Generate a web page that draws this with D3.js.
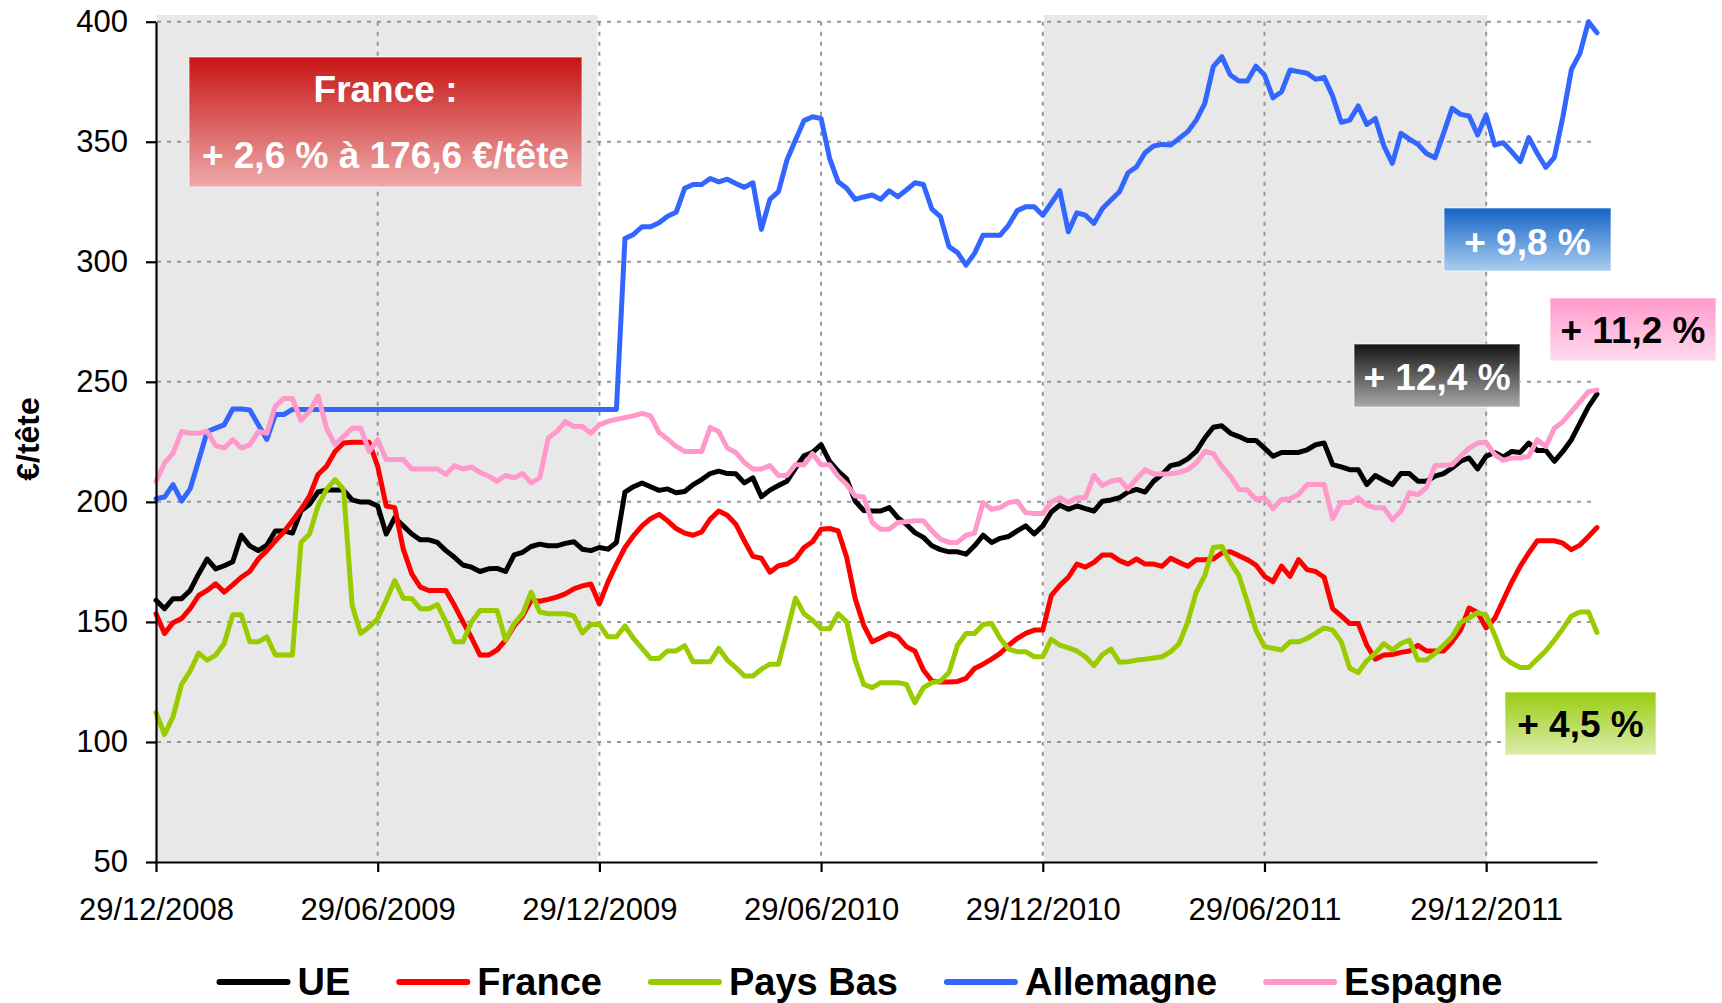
<!DOCTYPE html>
<html>
<head>
<meta charset="utf-8">
<script src="https://cdn.jsdelivr.net/npm/d3@7"></script>
<style>
  body { margin: 0; background: #fff; }
  svg text { font-family: "Liberation Sans", Arial, sans-serif; }
</style>
</head>
<body>
<svg id="chart" width="1722" height="1003"></svg>
<script>
// weekly prices in €/tête, first week = 29/12/2008
const ue = [
  159.0, 155.5, 159.7, 159.7, 163.1, 170.0, 176.2, 172.1, 173.4, 175.1,
  186.1, 181.7, 179.7, 182.0, 187.9, 187.9, 187.0, 196.2, 199.0, 204.1,
  204.9, 204.9, 204.9, 200.8, 199.9, 199.9, 198.3, 186.6, 193.4, 190.0,
  186.6, 184.2, 184.2, 183.1, 179.7, 176.9, 173.7, 172.8, 171.0, 172.1,
  172.3, 171.0, 177.9, 179.0, 181.4, 182.4, 181.7, 181.7, 182.7, 183.4,
  180.3, 179.7, 181.0, 180.3, 183.1, 204.1, 206.3, 207.9, 206.3, 204.8,
  205.4, 203.8, 204.3, 207.2, 209.3, 211.8, 212.8, 211.8, 211.7, 207.9,
  210.0, 202.1, 204.9, 206.8, 208.6, 214.1, 219.2, 220.6, 223.8, 216.9,
  212.8, 209.6, 200.3, 196.4, 196.2, 196.2, 197.6, 193.4, 190.7, 187.2,
  185.2, 181.7, 180.1, 179.2, 179.2, 178.2, 181.7, 186.1, 183.1, 184.8,
  185.6, 187.9, 190.0, 186.6, 190.0, 195.8, 198.6, 196.9, 198.3, 197.2,
  196.2, 200.3, 200.8, 201.7, 204.1, 205.2, 204.1, 208.6, 211.5, 215.1,
  215.9, 217.9, 221.0, 226.6, 231.1, 231.7, 228.6, 227.2, 225.6, 225.6,
  222.4, 219.0, 220.6, 220.6, 220.6, 221.7, 223.8, 224.5, 215.5, 214.6,
  213.4, 213.4, 207.2, 211.0, 209.0, 207.2, 211.8, 211.8, 208.6, 208.6,
  210.7, 211.8, 214.1, 216.9, 218.3, 213.7, 219.0, 220.6, 218.7, 221.0,
  220.6, 224.5, 221.4, 221.4, 216.9, 221.0, 225.9, 232.8, 239.7, 244.9
];

const france = [
  153.4, 145.2, 149.7, 151.4, 155.5, 161.0, 163.1, 165.9, 162.4, 165.4,
  168.6, 171.0, 176.2, 179.7, 183.8, 187.5, 192.1, 196.9, 202.4, 211.4,
  214.8, 221.0, 224.5, 224.8, 224.8, 224.8, 214.8, 198.3, 197.6, 180.3,
  170.0, 164.5, 163.1, 163.1, 163.1, 156.9, 150.0, 143.4, 136.2, 136.2,
  138.3, 142.4, 148.3, 152.5, 159.0, 158.6, 159.4, 160.3, 161.7, 163.8,
  165.0, 165.8, 157.5, 166.6, 174.1, 181.0, 185.9, 190.0, 193.0, 194.8,
  192.1, 188.9, 187.0, 186.1, 187.5, 192.8, 196.2, 194.4, 190.7, 183.8,
  177.3, 176.5, 170.7, 173.4, 174.1, 176.2, 181.0, 183.4, 188.6, 188.9,
  187.9, 176.9, 159.7, 148.6, 141.7, 143.4, 145.2, 143.8, 139.7, 137.9,
  130.0, 125.4, 125.0, 125.0, 125.2, 126.5, 130.6, 132.4, 134.5, 136.9,
  140.3, 143.1, 145.2, 146.6, 146.6, 161.0, 165.2, 168.6, 174.1, 172.8,
  174.8, 177.9, 177.9, 175.5, 174.1, 176.2, 174.1, 174.1, 173.2, 176.5,
  174.8, 173.2, 175.9, 175.9, 176.2, 178.7, 179.2, 177.6, 175.9, 173.7,
  169.0, 166.8, 173.2, 169.0, 175.9, 171.8, 171.0, 168.6, 155.5, 152.5,
  149.3, 149.3, 140.3, 134.5, 136.2, 136.4, 137.3, 137.9, 140.3, 137.9,
  137.9, 137.9, 141.7, 146.6, 155.8, 153.9, 147.5, 151.4, 159.0, 166.6,
  173.2, 178.7, 183.8, 183.8, 183.8, 182.8, 180.1, 182.0, 185.6, 189.3
];

const paysBas = [
  112.2, 103.1, 110.5, 124.0, 129.5, 137.0, 134.1, 136.2, 141.0, 153.0,
  153.0, 141.7, 141.7, 143.8, 136.2, 136.2, 136.2, 183.1, 186.6, 198.3,
  205.2, 209.3, 205.2, 156.9, 145.2, 147.9, 151.4, 159.0, 167.2, 159.9,
  159.7, 155.5, 155.5, 157.2, 150.0, 141.7, 141.7, 150.0, 154.8, 154.8,
  154.8, 142.4, 149.3, 153.4, 162.4, 154.1, 153.4, 153.4, 153.4, 152.5,
  145.4, 148.9, 149.0, 143.8, 143.8, 148.3, 143.1, 139.0, 134.8, 134.8,
  137.9, 137.9, 140.1, 133.4, 133.4, 133.4, 139.0, 134.1, 131.0, 127.5,
  127.5, 130.3, 132.4, 132.4, 146.0, 159.9, 153.4, 150.7, 147.2, 147.2,
  153.4, 150.0, 134.1, 124.0, 122.6, 124.7, 124.7, 124.7, 124.0, 116.3,
  122.6, 124.7, 125.4, 128.9, 140.3, 145.2, 145.2, 148.9, 149.3, 143.1,
  138.7, 137.6, 137.6, 135.5, 135.5, 142.8, 140.3, 139.2, 137.9, 135.5,
  131.8, 136.4, 138.7, 133.2, 133.4, 134.1, 134.5, 135.0, 135.5, 137.6,
  141.0, 150.0, 162.4, 169.3, 181.0, 181.4, 174.8, 169.3, 158.3, 146.6,
  139.7, 139.0, 138.3, 141.7, 141.7, 143.1, 145.2, 147.5, 146.6, 141.7,
  130.7, 128.9, 133.8, 136.9, 141.0, 138.3, 141.0, 142.4, 134.1, 134.1,
  136.9, 140.3, 143.8, 149.7, 151.7, 153.9, 152.8, 144.5, 135.5, 132.8,
  131.0, 131.0, 134.5, 138.0, 142.4, 147.2, 152.5, 154.1, 154.1, 145.6
];

const allemagne = [
  201.3, 202.0, 207.2, 200.3, 205.4, 217.2, 229.3, 230.7, 232.1, 238.7,
  238.7, 238.3, 232.1, 226.0, 236.4, 236.4, 238.5, 238.5, 238.5, 238.5,
  238.5, 238.5, 238.5, 238.5, 238.5, 238.5, 238.5, 238.5, 238.5, 238.5,
  238.5, 238.5, 238.5, 238.5, 238.5, 238.5, 238.5, 238.5, 238.5, 238.5,
  238.5, 238.5, 238.5, 238.5, 238.5, 238.5, 238.5, 238.5, 238.5, 238.5,
  238.5, 238.5, 238.5, 238.5, 238.5, 309.7, 311.4, 314.6, 314.6, 316.3,
  319.0, 320.6, 330.6, 332.2, 332.2, 334.7, 333.3, 334.4, 332.6, 331.0,
  332.9, 313.5, 326.0, 329.2, 342.4, 350.7, 358.8, 360.4, 359.7, 343.1,
  333.3, 330.6, 326.0, 327.0, 327.8, 326.0, 329.6, 327.1, 329.9, 332.9,
  332.2, 321.9, 318.8, 306.3, 303.8, 298.6, 303.5, 311.1, 311.1, 311.1,
  315.3, 321.3, 322.9, 322.9, 319.4, 324.5, 329.6, 312.5, 320.4, 319.4,
  316.0, 322.2, 325.7, 329.2, 337.1, 339.6, 345.4, 348.2, 348.9, 348.6,
  351.4, 354.2, 359.0, 366.0, 381.3, 385.4, 377.8, 375.3, 375.3, 381.5,
  377.8, 368.3, 370.8, 379.9, 379.2, 378.5, 376.0, 376.8, 369.0, 358.1,
  359.0, 364.9, 357.2, 359.7, 348.3, 341.0, 353.5, 351.1, 348.9, 345.1,
  343.3, 353.5, 363.9, 361.4, 360.7, 352.8, 361.1, 348.6, 349.6, 345.8,
  341.7, 351.7, 345.1, 339.3, 343.5, 360.4, 380.1, 386.8, 400.0, 395.4
];

const espagne = [
  208.6, 216.2, 220.3, 229.3, 228.6, 228.6, 229.3, 223.4, 222.4, 225.9,
  222.4, 223.8, 229.3, 228.6, 239.9, 243.1, 243.1, 233.9, 237.6, 244.1,
  230.7, 223.8, 227.2, 230.7, 230.7, 221.0, 225.9, 217.6, 217.6, 217.6,
  213.7, 213.7, 213.7, 213.7, 211.4, 215.1, 213.7, 214.6, 212.3, 210.7,
  208.6, 211.0, 210.0, 211.8, 207.9, 210.0, 226.6, 229.3, 233.4, 231.4,
  231.4, 228.6, 232.1, 233.5, 234.4, 235.1, 235.8, 236.9, 235.8, 228.9,
  226.1, 223.1, 221.0, 221.0, 221.0, 231.0, 229.3, 222.4, 220.6, 216.4,
  213.7, 213.7, 215.1, 211.0, 211.0, 215.5, 215.5, 220.1, 215.5, 215.5,
  210.7, 207.2, 202.4, 202.0, 191.4, 188.6, 188.6, 191.4, 191.7, 192.1,
  192.1, 187.9, 184.5, 183.1, 183.1, 186.1, 187.0, 199.7, 196.9, 197.6,
  199.7, 200.3, 195.5, 195.2, 195.2, 199.9, 201.7, 199.7, 201.7, 201.7,
  211.0, 206.8, 208.6, 209.3, 205.4, 209.6, 213.4, 211.6, 211.6, 211.7,
  212.3, 213.4, 216.2, 221.0, 220.1, 214.8, 210.7, 205.2, 204.9, 201.0,
  201.7, 197.2, 201.0, 201.3, 203.1, 207.2, 207.2, 207.2, 193.0, 199.7,
  199.7, 201.7, 198.6, 197.6, 197.6, 192.5, 196.2, 203.8, 203.1, 205.9,
  215.1, 215.3, 215.5, 219.0, 222.4, 224.5, 224.8, 219.7, 217.3, 218.3,
  218.3, 219.0, 225.9, 223.1, 230.7, 233.4, 237.6, 241.7, 245.9, 246.6
];

const seriesNames = ["UE", "France", "Pays Bas", "Allemagne", "Espagne"];
const seriesColors = ["#000000", "#ff0000", "#99cc00", "#3366ff", "#ff99cc"];
const seriesData = [ue, france, paysBas, allemagne, espagne];

const xTickIdx = [0, 26, 52, 78, 104, 130, 156];
const xTickLabels = ["29/12/2008", "29/06/2009", "29/12/2009", "29/06/2010",
  "29/12/2010", "29/06/2011", "29/12/2011"];
const yTicks = [50, 100, 150, 200, 250, 300, 350, 400];
// shaded periods (week index ranges)
const bands = [[0, 52], [104, 156]];

const svg = d3.select("#chart");
const fontFam = '"Liberation Sans", Arial, sans-serif';

let x = d3.scaleLinear().domain([0, ue.length - 1]).range([156, 1597]);
let y = d3.scaleLinear().domain([50, 400]).range([862, 21.7]);

// grey background bands
svg.selectAll(".band")
  .data(bands)
  .enter()
  .append("rect")
  .attr("class", "band")
  .attr("x", (d) => x(d[0]) + 1)
  .attr("y", 15)
  .attr("width", (d) => x(d[1]) - x(d[0]) - (d[0] == 0 ? 3 : 0))
  .attr("height", y(50) - 15)
  .style("fill", "#e8e8e8");

// dotted grid
svg.selectAll(".hgrid")
  .data(yTicks.filter((d) => d > 50))
  .enter()
  .append("line")
  .attr("x1", x(0) + 1)
  .attr("x2", x(ue.length - 1))
  .attr("y1", (d) => y(d))
  .attr("y2", (d) => y(d))
  .style("stroke", "#969696")
  .style("stroke-width", 2)
  .style("stroke-dasharray", "4,6");

svg.selectAll(".vgrid")
  .data(xTickIdx.filter((d) => d > 0))
  .enter()
  .append("line")
  .attr("x1", (d) => x(d))
  .attr("x2", (d) => x(d))
  .attr("y1", y(400))
  .attr("y2", y(50))
  .style("stroke", "#969696")
  .style("stroke-width", 2)
  .style("stroke-dasharray", "4,6");

// series lines
let line = d3.line()
  .x((d, i) => x(i))
  .y((d) => y(d));

seriesData.forEach(function(data, k) {
  svg.append("path")
    .datum(data)
    .attr("d", line)
    .style("fill", "none")
    .style("stroke", seriesColors[k])
    .style("stroke-width", 5)
    .style("stroke-linejoin", "round")
    .style("stroke-linecap", "round");
});

// axes
let yAxis = svg.append("g")
  .attr("transform", "translate(" + x(0) + ",0)")
  .call(d3.axisLeft(y).tickValues(yTicks).tickSize(10).tickPadding(18).tickSizeOuter(0));

let xAxis = svg.append("g")
  .attr("transform", "translate(0," + y(50) + ")")
  .call(d3.axisBottom(x).tickValues(xTickIdx)
    .tickFormat((d, i) => xTickLabels[i])
    .tickSize(10).tickPadding(26).tickSizeOuter(0));

[yAxis, xAxis].forEach(function(ax) {
  ax.attr("font-family", fontFam).attr("font-size", 31);
  ax.selectAll("path, line").style("stroke", "#000").style("stroke-width", 2.2);
  ax.selectAll("text").style("fill", "#000");
});

// y title
svg.append("text")
  .attr("transform", "translate(39,439) rotate(-90)")
  .attr("text-anchor", "middle")
  .style("font-size", "32px")
  .style("font-weight", "bold")
  .text("€/tête");

// legend
let legend = svg.append("g");
let cursor = 0;
seriesNames.forEach(function(name, k) {
  let item = legend.append("g").attr("transform", "translate(" + cursor + ",0)");
  item.append("line")
    .attr("x1", 0).attr("x2", 68)
    .attr("y1", 0).attr("y2", 0)
    .style("stroke", seriesColors[k])
    .style("stroke-width", 6)
    .style("stroke-linecap", "round");
  let t = item.append("text")
    .attr("x", 78)
    .attr("y", 13)
    .style("font-size", "38px")
    .style("font-weight", "bold")
    .text(name);
  cursor += 78 + t.node().getComputedTextLength() + 49;
});
let legendW = cursor - 49;
legend.attr("transform", "translate(" + (861 - legendW / 2) + ",982)");

// annotation boxes
const defs = svg.append("defs");
function gradient(id, top, bottom) {
  let g = defs.append("linearGradient")
    .attr("id", id)
    .attr("x1", 0).attr("y1", 0).attr("x2", 0).attr("y2", 1);
  g.append("stop").attr("offset", "0%").attr("stop-color", top);
  g.append("stop").attr("offset", "100%").attr("stop-color", bottom);
}
gradient("gRed", "#c81414", "#eeaaaa");
gradient("gBlue", "#1464c8", "#aacdf0");
gradient("gPink", "#ff99cc", "#ffdcee");
gradient("gDark", "#141414", "#a8a8a8");
gradient("gGreen", "#99cc11", "#dcedaa");

const boxes = [
  { x: 189, y: 57, w: 393, h: 130, fill: "gRed", color: "#fff",
    lines: [["France :", 101.5], ["+ 2,6 % à 176,6 €/tête", 168]] },
  { x: 1444, y: 208, w: 167, h: 63, fill: "gBlue", color: "#fff", lines: [["+ 9,8 %", 255]] },
  { x: 1550, y: 298, w: 166, h: 63, fill: "gPink", color: "#000", lines: [["+ 11,2 %", 343]] },
  { x: 1354, y: 344, w: 166, h: 63, fill: "gDark", color: "#fff", lines: [["+ 12,4 %", 390]] },
  { x: 1505, y: 692, w: 151, h: 63, fill: "gGreen", color: "#000", lines: [["+ 4,5 %", 737]] }
];

boxes.forEach(function(b) {
  svg.append("rect")
    .attr("x", b.x).attr("y", b.y)
    .attr("width", b.w).attr("height", b.h)
    .style("fill", "url(#" + b.fill + ")")
    .style("stroke", "rgba(255,255,255,0.45)")
    .style("stroke-width", 1.5);
  b.lines.forEach(function(l) {
    svg.append("text")
      .attr("x", b.x + b.w / 2)
      .attr("y", l[1])
      .attr("text-anchor", "middle")
      .style("font-size", "37px")
      .style("font-weight", "bold")
      .style("fill", b.color)
      .text(l[0]);
  });
});
</script>
</body>
</html>
